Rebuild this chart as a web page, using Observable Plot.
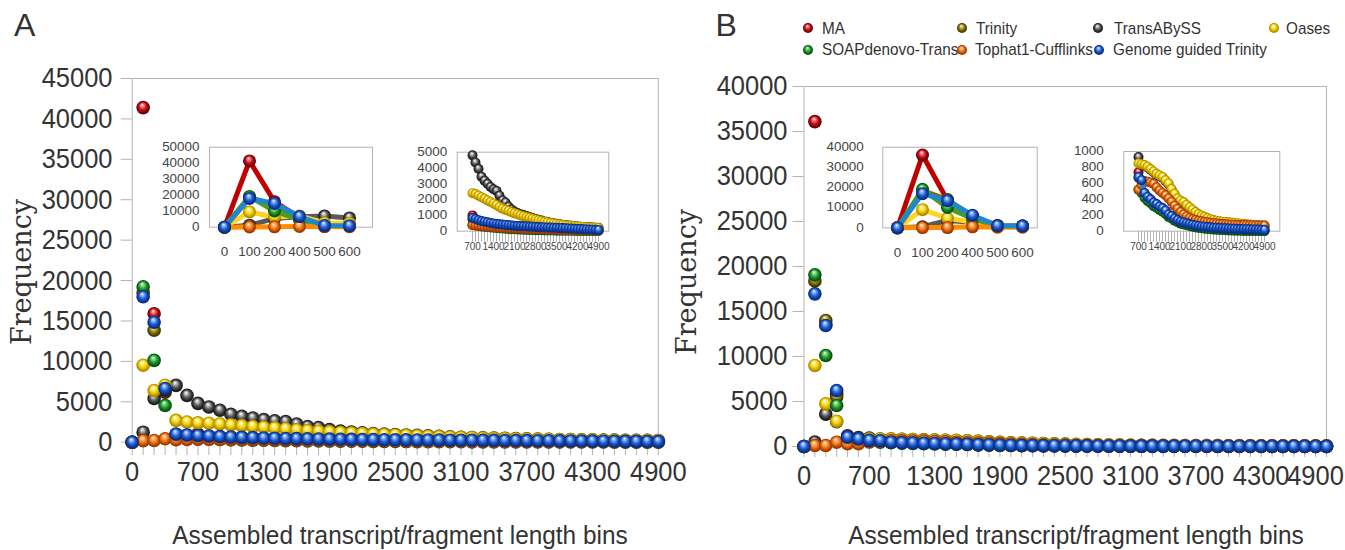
<!DOCTYPE html>
<html><head><meta charset="utf-8">
<script src="https://cdn.jsdelivr.net/npm/d3@7"></script>
<script src="https://cdn.jsdelivr.net/npm/@observablehq/plot@0.6"></script>
<style>
html,body{margin:0;padding:0;background:#fff;}
#root{position:relative;width:1345px;height:550px;overflow:hidden;font-family:"Liberation Sans",Arial,sans-serif;color:#333;}
#root svg{position:absolute;overflow:visible;background:transparent;max-width:none;}
.t{position:absolute;white-space:nowrap;line-height:1;color:#333;}
</style></head><body>
<svg id="defsvg" width="0" height="0" style="position:absolute"><defs></defs></svg>
<div id="root"></div>
<script>
// ---------------- DATA ----------------
const seriesNames = ["MA","Trinity","TransABySS","Oases","SOAPdenovo-Trans","Tophat1-Cufflinks","Genome guided Trinity"];
const categories = [0,100,200,400,500,600,700,800,900,1000,1100,1200,1300,1400,1500,1600,1700,1800,1900,2000,2100,2200,2300,2400,2500,2600,2700,2800,2900,3000,3100,3200,3300,3400,3500,3600,3700,3800,3900,4000,4100,4200,4300,4400,4500,4600,4700,4800,4900];
const mainXLabels = ["0","700","1300","1900","2500","3100","3700","4300","4900"];
const leftInsetCats = ["0","100","200","400","500","600"];
const rightInsetLabels = ["700","1400","2100","2800","3500","4200","4900"];
const yTicksA = [0,5000,10000,15000,20000,25000,30000,35000,40000,45000];
const yTicksB = [0,5000,10000,15000,20000,25000,30000,35000,40000];
const yTicksInsetAL = [0,10000,20000,30000,40000,50000];
const yTicksInsetAR = [0,1000,2000,3000,4000,5000];
const yTicksInsetBL = [0,10000,20000,30000,40000];
const yTicksInsetBR = [0,200,400,600,800,1000];

// Panel A
const A_MA = [0,41400,15900,6200,950,850, 1000,720,660,600,560,520,490,460,430,410, 390,370,355,340,325,310,300,290,280,270, 260,250,240,232,225,218,210,202,195,188, 180,170,160,150,140,130,120,110,100,92, 85,78,72];
const A_Trinity = [0,18500,13850,6300,900,800, 760,700,640,590,550,510,480,450,420,400, 380,360,345,330,315,300,290,280,270,260, 250,240,232,225,218,210,202,195,188,180, 170,160,150,140,130,120,110,100,92,85, 78,72,66];
const A_TransABySS = [0,1240,5400,6500,7030,5790, 4800,4350,3950,3450,3200,3000,2800,2650,2550,2250, 1950,1820,1560,1380,1250,1150,1080,1020,960,900, 840,780,720,670,620,580,540,500,470,440, 410,385,360,340,320,300,285,270,255,245, 235,225,215];
const A_Oases = [0,9520,6400,7050,2700,2500, 2400,2350,2250,2150,2050,1950,1850,1750,1650,1530, 1430,1350,1280,1200,1130,1070,1000,950,900,850, 790,740,690,640,600,560,520,490,460,430, 400,380,360,340,320,300,285,270,255,240, 230,220,210];
const A_SOAP = [0,19230,10130,4550,500,450, 400,360,330,300,280,260,240,220,200,185, 170,155,140,130,120,110,100,92,85,78, 72,66,60,55,50,46,42,39,36,33, 30,28,26,24,22,20,18,17,16,15, 14,13,12];
const A_Tophat = [0,200,210,420,300,350, 380,360,340,320,300,285,270,255,240,228, 216,205,195,185,176,168,160,152,145,138, 132,126,120,115,110,105,100,96,92,88, 84,80,77,74,71,68,65,62,60,58, 56,54,52];
const A_GGT = [0,18000,14850,6650,1000,900, 830,770,700,640,600,560,520,490,460,440, 420,400,380,365,350,335,320,310,300,290, 280,270,260,250,242,235,228,220,212,205, 195,185,175,165,155,145,135,125,115,105, 98,90,82];

// Panel B
const B_MA = [0,36100,13600,5800,950,820, 740,635,475,425,395,355,335,305,285,255, 205,185,155,135,115,105,95,85,75,68, 62,56,52,48,44,40,38,36,34,32, 30,28,26,24,23,22,21,20,18,17, 16,14,13];
const B_Trinity = [0,18400,14000,5500,950,820, 670,630,470,420,390,350,330,300,280,250, 200,180,150,130,110,100,90,80,70,62, 56,50,46,42,38,34,32,30,28,26, 24,22,20,18,17,16,15,14,12,11, 10,8,7];
const B_TransABySS = [0,500,3600,2750,1200,1000, 930,830,820,800,770,740,710,690,670,630, 590,520,460,400,375,355,320,290,260,230, 205,185,170,155,140,130,122,116,110,106, 103,98,94,90,85,82,78,75,72,68, 65,62,60];
const B_Oases = [0,9000,4740,2810,900,820, 850,840,830,810,780,750,720,700,680,640, 600,530,470,410,385,365,330,300,270,240, 215,195,180,165,150,140,132,126,120,116, 113,108,104,100,95,92,88,85,82,78, 75,72,70];
const B_SOAP = [0,19070,10110,4560,900,800, 520,480,420,380,350,315,295,265,245,215, 180,160,130,112,95,85,75,65,55,48, 42,36,32,28,24,20,18,16,14,12, 10,8,7,6,5,4,3,3,2,2, 2,1,1];
const B_Tophat = [0,110,110,480,300,300, 520,580,630,620,610,595,550,510,480,450, 410,370,320,280,240,210,185,165,150,140, 130,125,118,112,106,100,96,92,89,86, 84,82,80,78,77,76,75,74,73,72, 71,70,70];
const B_GGT = [0,16960,13440,6220,1040,850, 680,640,480,430,400,360,340,310,290,260, 210,190,160,140,120,110,100,90,80,72, 66,60,56,52,48,44,42,40,38,36, 34,32,30,28,27,26,25,24,22,21, 20,18,17];

// ---------------- STYLE ----------------
const ballStyles = [
  {base:"#c8101a", light:"#ff9c9c", dark:"#6a0005"},
  {base:"#8f7a0a", light:"#eadb8a", dark:"#433800"},
  {base:"#565656", light:"#d6d6d6", dark:"#1c1c1c"},
  {base:"#f4cf00", light:"#fff8b8", dark:"#b08c00"},
  {base:"#1f9c2d", light:"#a0e6a0", dark:"#0a5312"},
  {base:"#f2720c", light:"#ffcb95", dark:"#9c3a00"},
  {base:"#1c5fd2", light:"#a3c4ff", dark:"#0a2c82"}
];
const lineColors = ["#c00000","#7f6b00","#5a5a5a","#ffd320","#4c9a2a","#ff8c00","#1f88cc"];
const axisGray = "#b3b3b3";
const FONT = "'Liberation Sans', Arial, sans-serif";

const ns = "http://www.w3.org/2000/svg";
const defs = document.querySelector("#defsvg defs");
ballStyles.forEach((c, i) => {
  const g = document.createElementNS(ns, "radialGradient");
  g.setAttribute("id", "ball" + i);
  g.setAttribute("cx", "0.5"); g.setAttribute("cy", "0.5"); g.setAttribute("r", "0.5");
  g.setAttribute("fx", "0.42"); g.setAttribute("fy", "0.28");
  [[0, "#ffffff"], [0.16, c.light], [0.55, c.base], [0.88, c.dark], [1, c.dark]].forEach(([o, col]) => {
    const s = document.createElementNS(ns, "stop");
    s.setAttribute("offset", o); s.setAttribute("stop-color", col);
    g.appendChild(s);
  });
  defs.appendChild(g);
});

function rowsOf(arrays) {
  return arrays.flatMap((vals, i) => vals.map((v, j) => ({series: seriesNames[i], cat: String(categories[j]), value: v})));
}
const rowsA = rowsOf([A_MA, A_Trinity, A_TransABySS, A_Oases, A_SOAP, A_Tophat, A_GGT]);
const rowsB = rowsOf([B_MA, B_Trinity, B_TransABySS, B_Oases, B_SOAP, B_Tophat, B_GGT]);
const catStr = categories.map(String);

const root = document.getElementById("root");
function place(el, left, top) {
  el.style.position = "absolute";
  el.style.left = left + "px";
  el.style.top = top + "px";
  root.appendChild(el);
}
// horizontally squeeze/stretch tick label glyphs around their anchor point
function scaleTexts(svg, which, sx) {
  if (sx === 1) return;
  svg.querySelectorAll(`g[aria-label="${which}-axis tick label"] text`).forEach(t => {
    const tr = t.getAttribute("transform") || "";
    t.setAttribute("transform", `${tr} scale(${sx},1)`);
  });
}

function mainChart(rows, o) {
  const labelsMain = o.lastDx ? mainXLabels.slice(0, -1) : mainXLabels;
  const marks = [
    Plot.axisX({ticks: catStr, tickSize: o.xTickSize, stroke: axisGray, tickFormat: () => "", label: null}),
    Plot.frame({stroke: axisGray}),
    Plot.axisY({ticks: o.yTicks, tickSize: 11, tickPadding: o.yPad, tickFormat: "d", stroke: axisGray, color: "#333", fontSize: 28, label: null}),
    Plot.axisX({ticks: labelsMain, tickSize: 0, tickPadding: 19, color: "#333", fontSize: 28, label: null})
  ];
  if (o.lastDx) marks.push(Plot.axisX({ticks: mainXLabels.slice(-1), tickSize: 0, tickPadding: 19, dx: o.lastDx, color: "#333", fontSize: 28, label: null}));
  seriesNames.forEach((s, i) => {
    marks.push(Plot.dot(rows.filter(d => d.series === s), {x: "cat", y: "value", r: 6.8, fill: `url(#ball${i})`}));
  });
  const svg = Plot.plot({
    width: o.width, height: o.height,
    marginLeft: o.mL, marginRight: o.mR, marginTop: o.mT, marginBottom: o.mB,
    x: {type: "point", domain: catStr, padding: 0},
    y: {domain: [0, o.yMax]},
    style: {fontFamily: FONT, background: "transparent", overflow: "visible"},
    marks
  });
  scaleTexts(svg, "x", 0.91);
  scaleTexts(svg, "y", 0.91);
  return svg;
}

function insetChart(rows, cats, o) {
  const sub = rows.filter(d => cats.includes(d.cat));
  const marks = [Plot.frame({stroke: axisGray})];
  if (o.xTicks) marks.push(Plot.axisX({ticks: cats, tickSize: 11, stroke: axisGray, tickFormat: () => "", label: null}));
  marks.push(Plot.axisY({ticks: o.yTicks, tickSize: 0, tickPadding: o.yPad, tickFormat: "d", color: "#444", fontSize: 12, label: null}));
  marks.push(Plot.axisX({ticks: o.xLabels, tickSize: 0, tickPadding: o.xPad, color: "#444", fontSize: o.xFont, label: null}));
  seriesNames.forEach((s, i) => {
    const d = sub.filter(r => r.series === s);
    marks.push(Plot.line(d, {x: "cat", y: "value", stroke: lineColors[i], strokeWidth: 5, strokeLinejoin: "round", strokeLinecap: "round"}));
    marks.push(Plot.dot(d, {x: "cat", y: "value", r: o.r, fill: `url(#ball${i})`}));
  });
  const svg = Plot.plot({
    width: o.width, height: o.height,
    marginLeft: o.mL, marginRight: o.mR, marginTop: o.mT, marginBottom: o.mB,
    x: {type: "point", domain: cats, range: o.xRange},
    y: {domain: [0, o.yMax]},
    style: {fontFamily: FONT, background: "transparent", overflow: "visible"},
    marks
  });
  scaleTexts(svg, "y", 1.12);
  scaleTexts(svg, "x", o.xSx);
  return svg;
}

// Main charts
place(mainChart(rowsA, {width: 672, height: 500, mL: 131.7, mR: 14.2, mT: 78, mB: 58.3, yMax: 45000, yTicks: yTicksA, yPad: 8.7, xTickSize: 13.3}), 0, 0);
place(mainChart(rowsB, {width: 673, height: 500, mL: 131.5, mR: 19, mT: 86, mB: 54, yMax: 40000, yTicks: yTicksB, yPad: 5.5, xTickSize: 11, lastDx: -11}), 672, 0);

// Insets
const rightCats = catStr.slice(6);
place(insetChart(rowsA, leftInsetCats, {width: 240, height: 130, mL: 69, mR: 8, mT: 11.7, mB: 38.3, xRange: [69, 223.3], yMax: 50000, yTicks: yTicksInsetAL, yPad: 10, xLabels: leftInsetCats, xPad: 20, xFont: 12, xSx: 1.12, r: 6.5, xTicks: false}), 140, 135);
place(insetChart(rowsA, rightCats, {width: 240, height: 120, mL: 61.7, mR: 26.7, mT: 11.7, mB: 29.3, xRange: [61.7, 218.3], yMax: 5000, yTicks: yTicksInsetAR, yPad: 10, xLabels: rightInsetLabels, xPad: 12, xFont: 10, xSx: 1, r: 5, xTicks: true}), 395, 140);
place(insetChart(rowsB, leftInsetCats, {width: 240, height: 130, mL: 67.3, mR: 18.3, mT: 11.7, mB: 37.7, xRange: [67.3, 221.7], yMax: 40000, yTicks: yTicksInsetBL, yPad: 19, xLabels: leftInsetCats, xPad: 20.4, xFont: 12, xSx: 1.12, r: 6.5, xTicks: false}), 815, 135);
place(insetChart(rowsB, rightCats, {width: 235, height: 120, mL: 58.3, mR: 20.7, mT: 11, mB: 29.3, xRange: [58.3, 214.3], yMax: 1000, yTicks: yTicksInsetBR, yPad: 20, xLabels: rightInsetLabels, xPad: 12, xFont: 10, xSx: 1, r: 5, xTicks: true}), 1065, 140);

// Texts
function text(str, left, top, size, extra) {
  const d = document.createElement("div");
  d.className = "t";
  d.textContent = str;
  d.style.left = left + "px";
  d.style.top = top + "px";
  d.style.fontSize = size + "px";
  if (extra) Object.assign(d.style, extra);
  root.appendChild(d);
  return d;
}
text("A", 14, 8.9, 32);
text("B", 715.5, 8.9, 32);
text("Frequency", 21, 272, 27, {fontFamily: "'DejaVu Serif', serif", transform: "translate(-50%,-50%) rotate(-90deg)"});
text("Frequency", 686, 282, 27, {fontFamily: "'DejaVu Serif', serif", transform: "translate(-50%,-50%) rotate(-90deg)"});
text("Assembled transcript/fragment length bins", 400, 522, 26.5, {transform: "translateX(-50%) scaleX(0.92)"});
text("Assembled transcript/fragment length bins", 1076, 522, 26.5, {transform: "translateX(-50%) scaleX(0.92)"});

// Legend
const legendPos = [
  {mx: 807.5, my: 28.2, tx: 822.3, ty: 20.2},
  {mx: 961.9, my: 28.2, tx: 976, ty: 20.2},
  {mx: 1098, my: 28.2, tx: 1113.5, ty: 20.2},
  {mx: 1273.5, my: 28.2, tx: 1285.8, ty: 20.2},
  {mx: 807.5, my: 50.4, tx: 822.3, ty: 41.2},
  {mx: 961.9, my: 50.4, tx: 975.3, ty: 41.2},
  {mx: 1098.8, my: 50.4, tx: 1112.8, ty: 41.2}
];
seriesNames.forEach((s, i) => {
  const p = legendPos[i];
  text(s, p.tx, p.ty, 17, {transform: "scaleX(0.9)", transformOrigin: "0 0"});
  const svg = document.createElementNS(ns, "svg");
  svg.setAttribute("width", 12); svg.setAttribute("height", 12);
  const c = document.createElementNS(ns, "circle");
  c.setAttribute("cx", 6); c.setAttribute("cy", 6); c.setAttribute("r", 5);
  c.setAttribute("fill", `url(#ball${i})`);
  svg.appendChild(c);
  place(svg, p.mx - 6, p.my - 6);
});
</script>
</body></html>
